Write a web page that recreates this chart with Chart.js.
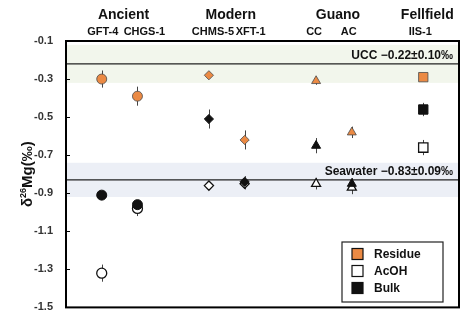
<!DOCTYPE html>
<html>
<head>
<meta charset="utf-8">
<script src="https://cdn.jsdelivr.net/npm/chart.js@4.4.1/dist/chart.umd.min.js"></script>
<style>
  html, body { margin: 0; padding: 0; background: #fff; }
  canvas { display: block; }
</style>
</head>
<body>
<canvas id="mgChart" width="472" height="327"></canvas>
<script>
// samples, grouped by sediment type
const groups = ['Ancient', 'Modern', 'Guano', 'Fellfield'];
const samples = ['GFT-4', 'CHGS-1', 'CHMS-5', 'XFT-1', 'CC', 'AC', 'IIS-1'];
const sampleX = [1, 2, 4, 5, 7, 8, 10];
const sampleGroup = [0, 0, 1, 1, 2, 2, 3];

// δ26Mg values (‰) and 2SD
const residue    = [-0.30, -0.39, -0.28, -0.62, -0.31, -0.58, -0.29];
const residueErr = [0.045, 0.05, 0.01, 0.05, 0.02, 0.03, 0.02];
const acoh       = [-1.32, -0.98, -0.86, -0.85, -0.85, -0.87, -0.66];
const acohErr    = [0.045, 0.04, 0.02, 0.03, 0.03, 0.035, 0.04];
const bulk       = [-0.91, -0.96, -0.51, -0.84, -0.65, -0.85, -0.46];
const bulkErr    = [0.02, 0.02, 0.05, 0.03, 0.04, 0.03, 0.035];

const yTicks = [-1.5, -1.3, -1.1, -0.9, -0.7, -0.5, -0.3, -0.1];

// reference reservoirs
const refNames = ['UCC', 'Seawater'];
const refValues = [-0.22, -0.83];
const refErrs = [0.10, 0.09];

const shapes = ['circle', 'circle', 'rectRot', 'rectRot', 'triangle', 'triangle', 'rect'];
const sizes = [5, 5, 4.6, 4.6, 5.2, 5.2, 6.6];
const ORANGE = '#EB8A44';
const FONT = '"Liberation Sans", Arial, sans-serif';

function pts(vals) {
  return vals.map((v, i) => ({ x: sampleX[i], y: v }));
}

const errorSets = [residueErr, acohErr, bulkErr];

const datasets = [
  { label: 'Residue', data: pts(residue), backgroundColor: ORANGE, borderColor: '#4a4a4a', borderWidth: 0.8, order: 0 },
  { label: 'AcOH', data: pts(acoh), backgroundColor: '#ffffff', borderColor: '#111', borderWidth: 1.3, order: 2 },
  { label: 'Bulk', data: pts(bulk), backgroundColor: '#111111', borderColor: '#111', borderWidth: 1, order: 1 }
];
datasets.forEach(ds => {
  ds.pointStyle = shapes;
  ds.pointRadius = sizes;
  ds.pointHoverRadius = sizes;
});

// bands, reference lines and error bars behind the markers
const backdrop = {
  id: 'backdrop',
  beforeDatasetsDraw(chart) {
    const { ctx, chartArea: a, scales: { x, y } } = chart;
    ctx.save();
    const bandColors = ['#F2F6EC', '#ECEFF6'];
    refValues.forEach((v, i) => {
      const top = y.getPixelForValue(v + refErrs[i]);
      const bot = y.getPixelForValue(v - refErrs[i]);
      ctx.fillStyle = bandColors[i];
      ctx.fillRect(a.left, top, a.width, bot - top);
    });
    ctx.strokeStyle = '#222';
    ctx.lineWidth = 1.4;
    refValues.forEach(v => {
      const py = y.getPixelForValue(v);
      ctx.beginPath();
      ctx.moveTo(a.left, py);
      ctx.lineTo(a.right, py);
      ctx.stroke();
    });
    // error bars
    ctx.strokeStyle = '#444';
    ctx.lineWidth = 1;
    [residue, acoh, bulk].forEach((vals, k) => {
      vals.forEach((v, i) => {
        const px = Math.round(x.getPixelForValue(sampleX[i])) + 0.5;
        ctx.beginPath();
        ctx.moveTo(px, y.getPixelForValue(v + errorSets[k][i]));
        ctx.lineTo(px, y.getPixelForValue(v - errorSets[k][i]));
        ctx.stroke();
      });
    });
    // reservoir labels
    ctx.fillStyle = '#111';
    ctx.font = 'bold 12px ' + FONT;
    ctx.textAlign = 'right';
    ctx.textBaseline = 'bottom';
    refValues.forEach((v, i) => {
      const txt = refNames[i] + ' \u2212' + Math.abs(v).toFixed(2) + '\u00B1' + refErrs[i].toFixed(2) + '\u2030';
      ctx.fillText(txt, a.right - 6, y.getPixelForValue(v) - 2);
    });
    ctx.restore();
  }
};

// frame, inward ticks, top labels, y title and legend
const decorations = {
  id: 'decorations',
  afterDraw(chart) {
    const { ctx, chartArea: a, scales: { x, y } } = chart;
    ctx.save();
    ctx.strokeStyle = '#000';
    ctx.lineWidth = 2;
    ctx.strokeRect(a.left, a.top, a.width, a.height);
    ctx.lineWidth = 1;
    yTicks.forEach(t => {
      const py = Math.round(y.getPixelForValue(t)) + 0.5;
      ctx.beginPath();
      ctx.moveTo(a.left, py);
      ctx.lineTo(a.left + 4, py);
      ctx.stroke();
    });

    // sample and group names above the plot
    ctx.fillStyle = '#111';
    ctx.textAlign = 'center';
    ctx.textBaseline = 'middle';
    ctx.font = 'bold 11px ' + FONT;
    const nudge = [1, 7, 4, 6, -2, -3, -3];
    samples.forEach((s, i) => {
      ctx.fillText(s, x.getPixelForValue(sampleX[i]) + nudge[i], 32);
    });
    ctx.font = 'bold 14px ' + FONT;
    groups.forEach((g, gi) => {
      const xs = sampleX.filter((_, i) => sampleGroup[i] === gi);
      const mid = (Math.min(...xs) + Math.max(...xs)) / 2;
      ctx.fillText(g, x.getPixelForValue(mid) + 4, 15);
    });

    // y axis title: δ26Mg(‰)
    ctx.translate(27, (a.top + a.bottom) / 2);
    ctx.rotate(-Math.PI / 2);
    const big = 'bold 15px ' + FONT, small = 'bold 9px ' + FONT;
    ctx.font = big; const w1 = ctx.measureText('\u03B4').width;
    ctx.font = small; const w2 = ctx.measureText('26').width;
    ctx.font = big; const w3 = ctx.measureText('Mg(\u2030)').width;
    let cx = -(w1 + w2 + w3) / 2;
    ctx.textAlign = 'left';
    ctx.textBaseline = 'alphabetic';
    ctx.font = big; ctx.fillText('\u03B4', cx, 5); cx += w1;
    ctx.font = small; ctx.fillText('26', cx, -1); cx += w2;
    ctx.font = big; ctx.fillText('Mg(\u2030)', cx, 5);
    ctx.setTransform(1, 0, 0, 1, 0, 0);

    // legend box in lower right
    const lx = 342, ly = 242, lw = 101, lh = 60;
    ctx.fillStyle = '#fff';
    ctx.fillRect(lx, ly, lw, lh);
    ctx.strokeStyle = '#222';
    ctx.lineWidth = 1.2;
    ctx.strokeRect(lx, ly, lw, lh);
    ctx.font = 'bold 12px ' + FONT;
    ctx.textBaseline = 'middle';
    [0, 1, 2].forEach((di, r) => {
      const ds = chart.data.datasets[di];
      const cy = ly + 12 + r * 17;
      ctx.fillStyle = ds.backgroundColor;
      ctx.fillRect(lx + 10, cy - 5.5, 11, 11);
      ctx.strokeStyle = '#111';
      ctx.lineWidth = 1.2;
      ctx.strokeRect(lx + 10, cy - 5.5, 11, 11);
      ctx.fillStyle = '#111';
      ctx.fillText(ds.label, lx + 32, cy + 0.5);
    });
    ctx.restore();
  }
};

new Chart(document.getElementById('mgChart'), {
  type: 'scatter',
  data: { datasets },
  options: {
    responsive: false,
    animation: false,
    events: [],
    layout: { padding: { top: 41, right: 13, bottom: 14, left: 0 } },
    plugins: { legend: { display: false }, tooltip: { enabled: false } },
    scales: {
      x: { type: 'linear', min: 0, max: 11, display: false },
      y: {
        type: 'linear',
        min: -1.5,
        max: -0.1,
        grid: { display: false, drawTicks: false },
        border: { display: false },
        afterBuildTicks: s => { s.ticks = yTicks.map(v => ({ value: v })); },
        afterFit: s => { s.width = 66; },
        ticks: {
          padding: 13,
          color: '#333',
          font: { family: FONT, size: 11, weight: 'bold' },
          callback: v => v.toFixed(1)
        }
      }
    }
  },
  plugins: [backdrop, decorations]
});
</script>
</body>
</html>
